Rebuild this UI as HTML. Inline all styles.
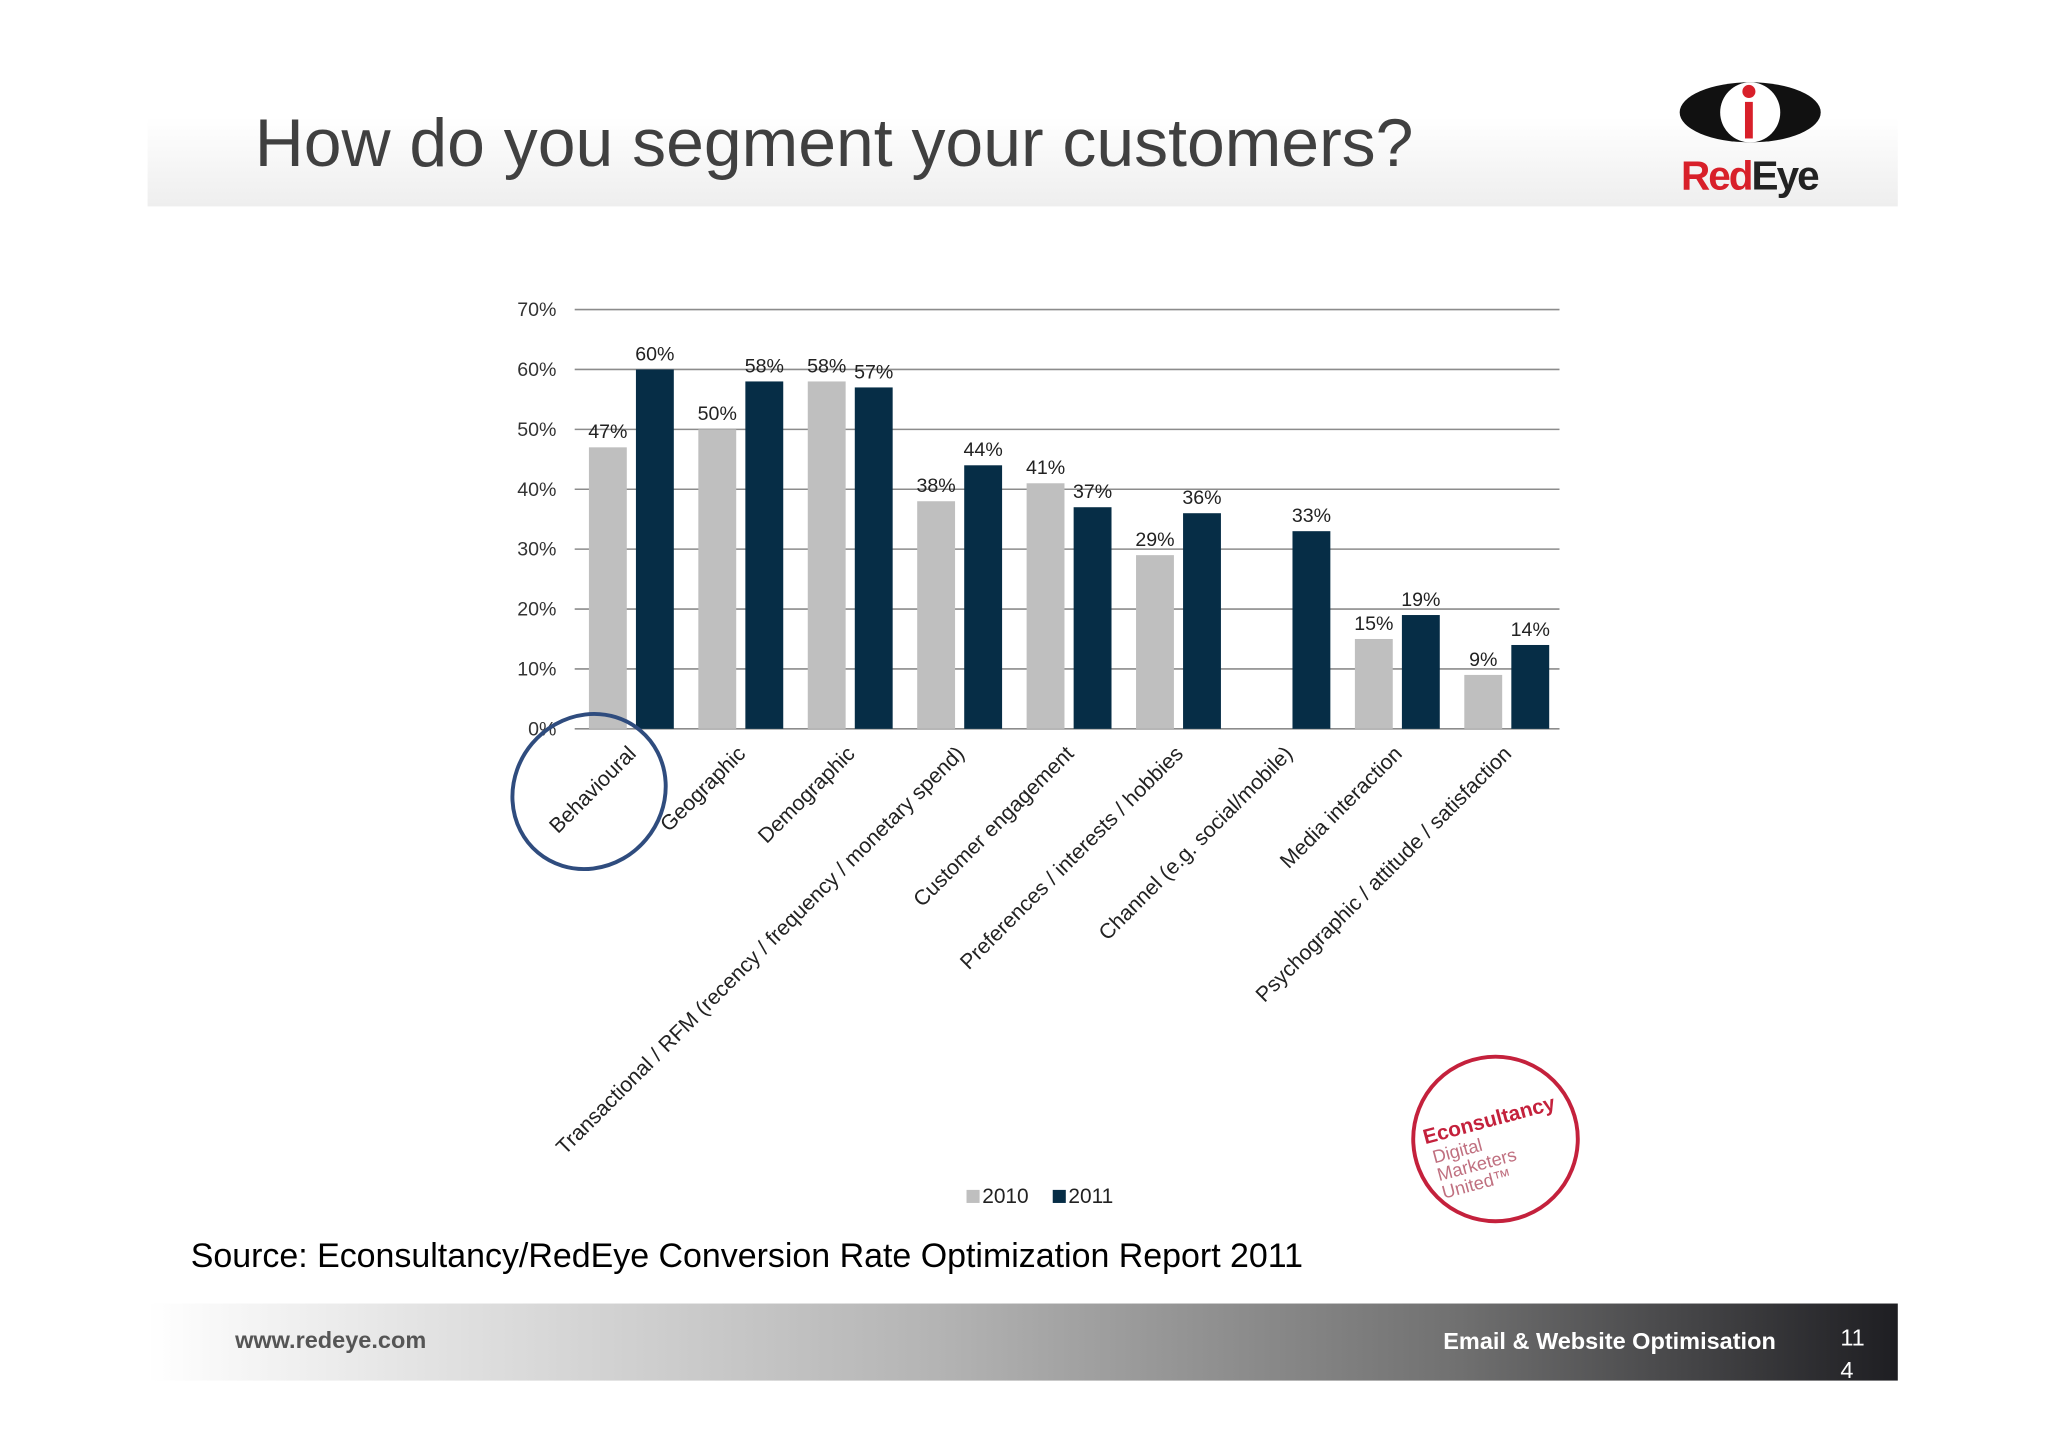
<!DOCTYPE html>
<html><head><meta charset="utf-8"><style>
html,body{margin:0;padding:0;background:#fff;}
svg{display:block;font-family:"Liberation Sans",Arial,sans-serif;}
</style></head><body>
<svg width="2048" height="1448" viewBox="0 0 1568 1108.6" xmlns="http://www.w3.org/2000/svg">
<defs>
<linearGradient id="hdr" x1="0" y1="0" x2="0" y2="1"><stop offset="0" stop-color="#ffffff"/><stop offset="1" stop-color="#eeeeee"/></linearGradient>
<linearGradient id="ftr" x1="0" y1="0" x2="1" y2="0"><stop offset="0" stop-color="#ffffff"/><stop offset="0.15" stop-color="#e4e4e4"/><stop offset="0.45" stop-color="#b4b4b4"/><stop offset="0.75" stop-color="#707070"/><stop offset="1" stop-color="#1e1e22"/></linearGradient>
</defs>
<rect x="113" y="90" width="1340" height="68" fill="url(#hdr)"/>
<text x="195" y="127" font-size="52" fill="#404040">How do you segment your customers?</text>
<g>
<ellipse cx="1340" cy="86" rx="54" ry="23" fill="#111"/>
<ellipse cx="1340" cy="86" rx="23" ry="23" fill="#fff"/>
<circle cx="1339" cy="70" r="5" fill="#d8202a"/>
<rect x="1336" y="78" width="6" height="28" fill="#d8202a"/>
<text x="1287" y="145" font-size="31" font-weight="bold" letter-spacing="-1.5"><tspan fill="#d8202a">Red</tspan><tspan fill="#222">Eye</tspan></text>
</g>
<g id="chart"></g>
<ellipse cx="451" cy="606" rx="57" ry="61" transform="rotate(40 451 606)" fill="none" stroke="#2f4c7e" stroke-width="3"/>
<g>
<rect x="740" y="911" width="10" height="10" fill="#bfbfbf"/>
<text x="752" y="921" font-size="16" fill="#222">2010</text>
<rect x="806" y="911" width="10" height="10" fill="#062d46"/>
<text x="818" y="921" font-size="16" fill="#222">2011</text>
</g>
<g>
<circle cx="1145" cy="872" r="63" fill="none" stroke="#c4213c" stroke-width="3"/>
<g transform="rotate(-15 1145 872)">
<text x="1092" y="862" font-size="16" font-weight="bold" fill="#c4213c">Econsultancy</text>
<text x="1095" y="878" font-size="14" fill="#c07080">Digital</text>
<text x="1095" y="892" font-size="14" fill="#c07080">Marketers</text>
<text x="1095" y="906" font-size="14" fill="#c07080">United™</text>
</g>
</g>
<text x="146" y="970" font-size="26" fill="#000">Source: Econsultancy/RedEye Conversion Rate Optimization Report 2011</text>
<rect x="113" y="998" width="1340" height="59" fill="url(#ftr)"/>
<text x="180" y="1032" font-size="18" font-weight="bold" fill="#555">www.redeye.com</text>
<text x="1105" y="1033" font-size="18" font-weight="bold" fill="#fff">Email &amp; Website Optimisation</text>
<text x="1409" y="1030" font-size="18" fill="#fff">11</text>
<text x="1409" y="1055" font-size="18" fill="#fff">4</text>
</svg>
<script>
const categories=["Behavioural","Geographic","Demographic","Transactional / RFM (recency / frequency / monetary spend)","Customer engagement","Preferences / interests / hobbies","Channel (e.g. social/mobile)","Media interaction","Psychographic / attitude / satisfaction"];
const values2010=[47,50,58,38,41,29,null,15,9];
const values2011=[60,58,57,44,37,36,33,19,14];
const yTicks=[0,10,20,30,40,50,60,70];
const NS="http://www.w3.org/2000/svg";
const g=document.getElementById('chart');
const x0=440,x1=1194,y0=558,yTop=237,yMax=70;
const yS=v=>y0-(v/yMax)*(y0-yTop);
const band=(x1-x0)/categories.length;
const xC=i=>x0+band*(i+0.5);
function mk(t,a){const e=document.createElementNS(NS,t);for(const k in a)e.setAttribute(k,a[k]);g.appendChild(e);return e;}
yTicks.forEach(t=>{
 const l=mk('line',{x1:x0,x2:x1,y1:yS(t),y2:yS(t),stroke:'#8c8c8c','stroke-width':1.2});
 
 
 const tx=mk('text',{x:426,y:yS(t)+5,'font-size':15,fill:'#333','text-anchor':'end'});
 tx.textContent=t+'%';
 
 
});
categories.forEach((c,i)=>{
 const cx=xC(i);
 [[values2010[i],cx-31,'#bfbfbf','2010'],[values2011[i],cx+5,'#062d46','2011']].forEach(([v,x,col,yr])=>{
  if(v==null)return;
  const r=mk('rect',{x:x,y:yS(v),width:29,height:y0-yS(v),fill:col});
  
  
  const t=mk('text',{x:x+14.5,y:yS(v)-7,'font-size':15,fill:'#222','text-anchor':'middle'});
  t.textContent=v+'%';
  
  
 });
 const lb=mk('text',{x:cx+6,y:578,'font-size':16.3,fill:'#222','text-anchor':'end',transform:'rotate(-45 '+(cx+6)+' 578)'});
 lb.textContent=c;
 
 
});
</script>
</body></html>
